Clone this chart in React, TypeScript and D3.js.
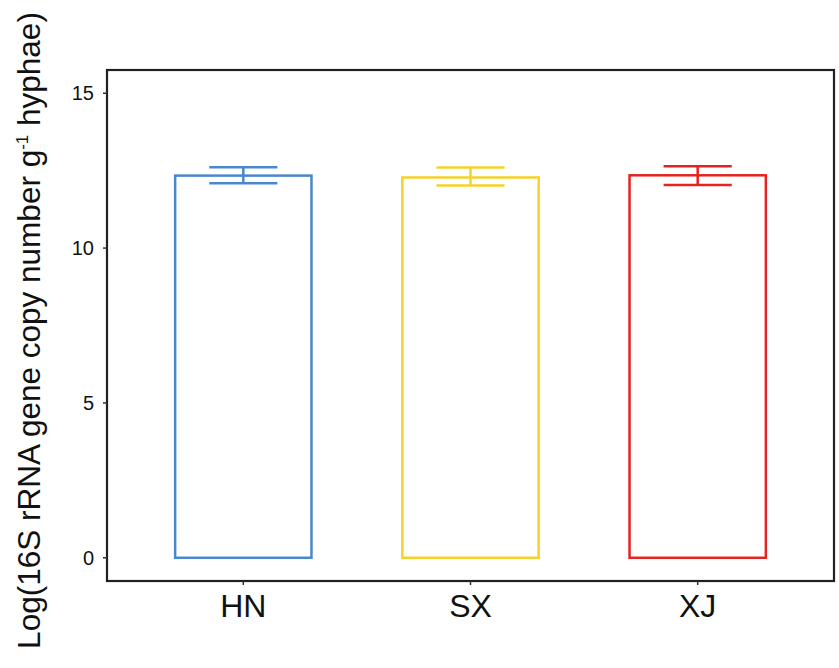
import React from "react";
import * as d3 from "d3";

const sites = ["HN", "SX", "XJ"];
const means = [12.34, 12.28, 12.35];
const upper = [12.61, 12.6, 12.64];
const lower = [12.09, 12.02, 12.04];
const colors = ["#4A88CC", "#F4D22B", "#E52420"];
const yTicks = [0, 5, 10, 15];

const W = 839, H = 668;
const margin = { top: 70, right: 5, bottom: 87, left: 107 };

export default function App() {
  const pw = W - margin.left - margin.right;
  const ph = H - margin.top - margin.bottom;

  const x = d3.scaleLinear().domain([0.4, 3.6]).range([0, pw]);
  const y = d3.scaleLinear().domain([-0.75, 15.75]).range([ph, 0]);

  const barW = x(0.6) - x(0);
  const capW = x(0.3) - x(0);

  return (
    <svg width={W} height={H} style={{ position: "absolute", left: 0, top: 0, fontFamily: "Liberation Sans, Arial, sans-serif" }}>
      <g transform={`translate(${margin.left},${margin.top})`}>
        {sites.map((s, i) => {
          const cx = x(i + 1);
          return (
            <g key={s} stroke={colors[i]} strokeWidth={2.5} fill="none">
              <rect x={cx - barW / 2} y={y(means[i])} width={barW} height={y(0) - y(means[i])} fill="white" />
              <line x1={cx} x2={cx} y1={y(upper[i])} y2={y(lower[i])} />
              <line x1={cx - capW / 2} x2={cx + capW / 2} y1={y(upper[i])} y2={y(upper[i])} />
              <line x1={cx - capW / 2} x2={cx + capW / 2} y1={y(lower[i])} y2={y(lower[i])} />
            </g>
          );
        })}
        <rect x={0} y={0} width={pw} height={ph} fill="none" stroke="#231F20" strokeWidth={2.2} />
        {yTicks.map(t => (
          <g key={t} transform={`translate(0,${y(t)})`}>
            <line x1={-4} x2={0} stroke="#333" strokeWidth={1.5} />
            <text x={-13} dy="0.36em" textAnchor="end" fontSize={20} fill="#111">{t}</text>
          </g>
        ))}
        {sites.map((s, i) => (
          <g key={s} transform={`translate(${x(i + 1)},${ph})`}>
            <line y1={0} y2={4} stroke="#333" strokeWidth={1.5} />
            <text y={35.5} textAnchor="middle" fontSize={32} fill="#111">{s}</text>
          </g>
        ))}
      </g>
      <text transform={`translate(40,330.5) rotate(-90)`} textAnchor="middle" fontSize={31.5} fill="#111">
        Log(16S rRNA gene copy number g<tspan dy={-12} fontSize={17}>-1</tspan><tspan dy={12}> hyphae)</tspan>
      </text>
    </svg>
  );
}
